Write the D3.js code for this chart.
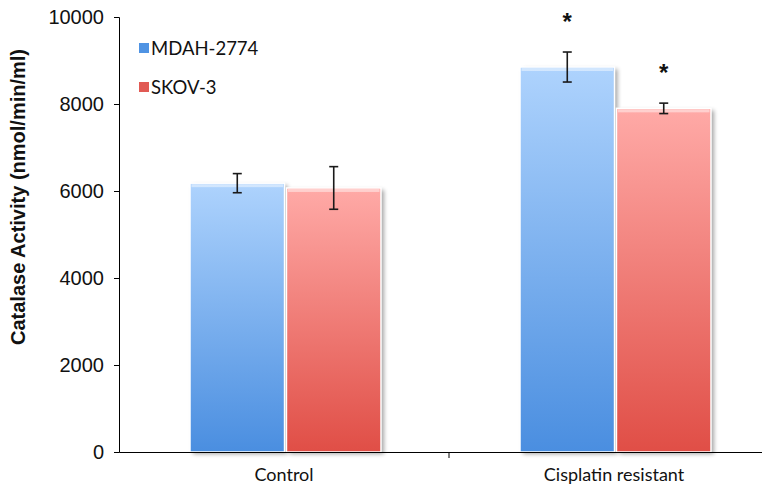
<!DOCTYPE html>
<html><head><meta charset="utf-8">
<script src="https://cdn.jsdelivr.net/npm/d3@7"></script>
<style>body{margin:0;background:#fff}svg{display:block}</style>
</head><body><svg id="c" width="762" height="489"></svg>
<script>
const categories = ["Control", "Cisplatin resistant"];
const seriesNames = ["MDAH-2774", "SKOV-3"];
const mdahValues = [6180, 8850];
const skovValues = [6070, 7900];
const mdahErrors = [220, 345];
const skovErrors = [490, 120];
const significant = [[false, true], [false, true]];
const yTicks = [0, 2000, 4000, 6000, 8000, 10000];

const svg = d3.select("#c");
const defs = svg.append("defs");
function grad(id, top, bottom) {
  const g = defs.append("linearGradient").attr("id", id).attr("x1", 0).attr("y1", 0).attr("x2", 0).attr("y2", 1);
  g.append("stop").attr("offset", "0%").attr("stop-color", top);
  g.append("stop").attr("offset", "100%").attr("stop-color", bottom);
}
grad("gBlue", "#aed3fd", "#4a8ee0");
grad("gRed", "#ffaaa7", "#e04e46");
const f = defs.append("filter").attr("id", "sh").attr("x", "-20%").attr("y", "-20%").attr("width", "140%").attr("height", "140%");
f.append("feGaussianBlur").attr("stdDeviation", 2);

const y = d3.scaleLinear().domain([0, 10000]).range([452, 17]);
const x0 = d3.scaleBand().domain(categories).range([119, 779]);
const x1 = d3.scaleBand().domain(seriesNames).range([71, 262]).paddingInner(0.02);

const data = seriesNames.map((s, i) => ({
  name: s,
  values: i === 0 ? mdahValues : skovValues,
  errors: i === 0 ? mdahErrors : skovErrors,
  sig: significant[i],
  fill: i === 0 ? "url(#gBlue)" : "url(#gRed)",
  legend: i === 0 ? "#4f93e3" : "#e15a54"
}));

// bars
data.forEach(s => {
  categories.forEach((c, j) => {
    const bx = x0(c) + x1(s.name), bw = x1.bandwidth();
    const by = y(s.values[j]), bh = y(0) - by;
    svg.append("rect").attr("x", bx + 3).attr("y", by + 2).attr("width", bw).attr("height", bh)
      .attr("fill", "#000").attr("opacity", 0.35).attr("filter", "url(#sh)");
    svg.append("rect").attr("x", bx).attr("y", by).attr("width", bw).attr("height", bh)
      .attr("fill", s.fill).attr("stroke", "#fff").attr("stroke-width", 1.5);
    svg.append("rect").attr("x", bx + 1.5).attr("y", by + 1).attr("width", bw - 3).attr("height", 3)
      .attr("fill", "#fff").attr("opacity", 0.45);
  });
});

// error bars
data.forEach(s => {
  categories.forEach((c, j) => {
    const cx = x0(c) + x1(s.name) + x1.bandwidth() / 2;
    const hi = y(s.values[j] + s.errors[j]), lo = y(s.values[j] - s.errors[j]);
    const g = svg.append("g").attr("stroke", "#1a1a1a").attr("stroke-width", 1.6);
    g.append("line").attr("x1", cx).attr("x2", cx).attr("y1", hi).attr("y2", lo);
    g.append("line").attr("x1", cx - 4.5).attr("x2", cx + 4.5).attr("y1", hi).attr("y2", hi);
    g.append("line").attr("x1", cx - 4.5).attr("x2", cx + 4.5).attr("y1", lo).attr("y2", lo);
    if (s.sig[j]) {
      svg.append("text").attr("x", cx).attr("y", hi - 22).attr("text-anchor", "middle")
        .attr("font-family", "Liberation Sans, Arial, sans-serif").attr("font-size", 24).attr("font-weight", "bold")
        .attr("fill", "#111").text("*");
    }
  });
});

// y axis
const yAxis = svg.append("g").attr("transform", "translate(119,0)")
  .call(d3.axisLeft(y).tickValues(yTicks).tickSize(5).tickPadding(10).tickFormat(d3.format("d")));
yAxis.select(".domain").attr("stroke", "#000");
yAxis.selectAll(".tick line").attr("stroke", "#000");
yAxis.selectAll("text").attr("font-family", "Liberation Sans, Arial, sans-serif").attr("font-size", 20).attr("fill", "#111");

// x axis
const xAxis = svg.append("g").attr("transform", "translate(0,452)")
  .call(d3.axisBottom(x0).tickSize(0).tickPadding(16));
xAxis.select(".domain").attr("stroke", "#000");
xAxis.selectAll("text").attr("font-family", "Lato, sans-serif").attr("font-size", 18).attr("fill", "#111");
svg.append("g").selectAll("line").data(categories.slice(1)).join("line")
  .attr("x1", d => x0(d)).attr("x2", d => x0(d)).attr("y1", 452).attr("y2", 458).attr("stroke", "#000");

// y title
svg.append("text").attr("transform", "translate(25,197) rotate(-90)").attr("text-anchor", "middle")
  .attr("font-family", "Liberation Sans, Arial, sans-serif").attr("font-weight", "bold").attr("font-size", 20)
  .attr("fill", "#111").text("Catalase Activity (nmol/min/ml)");

// legend
const lg = svg.append("g").attr("transform", "translate(139,0)");
data.forEach((s, i) => {
  const yy = 48 + i * 39;
  lg.append("rect").attr("x", 0).attr("y", yy - 5).attr("width", 10).attr("height", 10).attr("fill", s.legend);
  lg.append("text").attr("x", 12).attr("y", yy).attr("dy", "0.36em")
    .attr("font-family", "Lato, sans-serif").attr("font-size", 18.5).attr("fill", "#111").text(s.name);
});
</script></body></html>
